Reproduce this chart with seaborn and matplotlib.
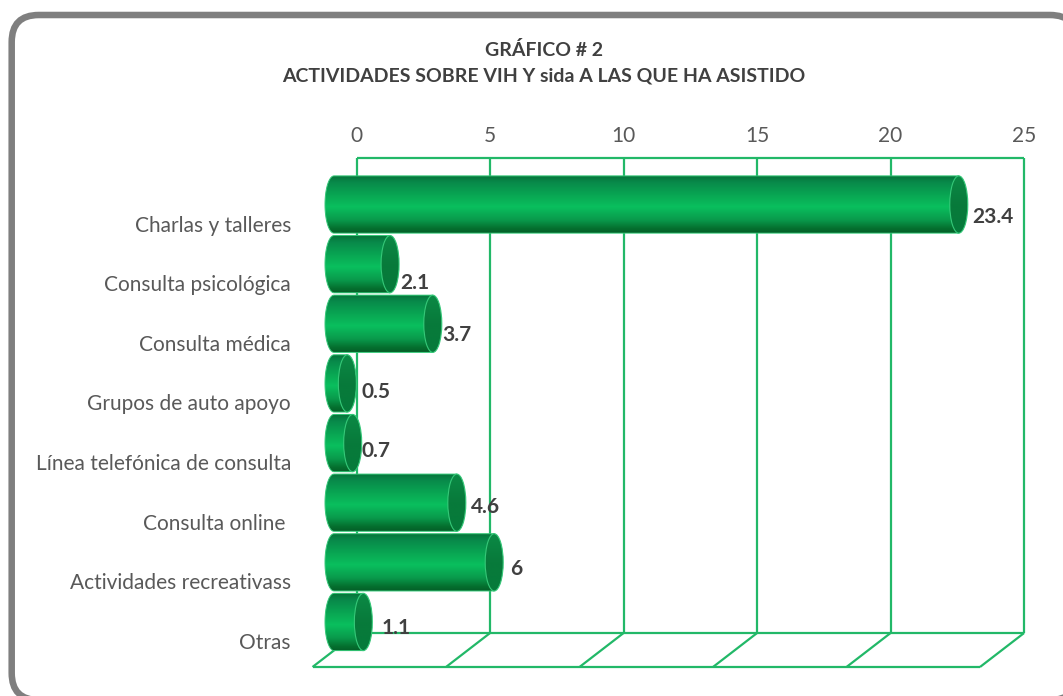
import numpy as np
import pandas as pd
import matplotlib
matplotlib.use("Agg")
import matplotlib.pyplot as plt
from matplotlib.colors import LinearSegmentedColormap
from matplotlib.patches import FancyBboxPatch, Ellipse, Polygon
from matplotlib.transforms import IdentityTransform
import seaborn as sns

categories = ["Charlas y talleres", "Consulta psicológica", "Consulta médica",
              "Grupos de auto apoyo", "Línea telefónica de consulta",
              "Consulta online ", "Actividades recreativass", "Otras"]
values = [23.4, 2.1, 3.7, 0.5, 0.7, 4.6, 6, 1.1]
value_labels = ["23.4", "2.1", "3.7", "0.5", "0.7", "4.6", "6", "1.1"]
axis_ticks = [0, 5, 10, 15, 20, 25]
title_lines = "GRÁFICO # 2\nACTIVIDADES SOBRE VIH Y sida A LAS QUE HA ASISTIDO"

W, H = 1063, 696
sns.set_theme(style="white")
plt.rcParams["font.family"] = ["Lato", "DejaVu Sans"]
TXT = "#595959"
BOLD = "#404040"
GRID = "#22b868"

fig = plt.figure(figsize=(W / 100, H / 100), dpi=100, facecolor="white")
XMAX = 26
L, R, T, B = 334.0, 334.0 + 26.7 * XMAX, 174.7, 651.8
ax = fig.add_axes([L / W, 1 - B / H, (R - L) / W, (B - T) / H])
ax.patch.set_alpha(0)

# frame (its right and bottom sides run past the picture)
fig.add_artist(FancyBboxPatch((11.7, H - 700), 1077 - 11.7, 700 - 15,
                              boxstyle="round,pad=0,rounding_size=27",
                              transform=IdentityTransform(), fc="white", ec="#7f7f7f",
                              lw=4.7, zorder=-5))

df = pd.DataFrame({"categoria": categories, "valor": values})
sns.barplot(data=df, y="categoria", x="valor", orient="h", color="#0a9a4a",
            width=0.96, ax=ax, zorder=3, saturation=1)

ax.set_xlim(0, XMAX)
ax.set_ylim(7.5, -0.5)
px_x = XMAX / (R - L)
px_y = 8 / (B - T)

# 3-D box: back wall, floor
back = 22.6 * px_x
front = -21.5 * px_x
wall_top = -0.5 - (T - 158) * px_y
floor_back = 7.5 - (B - 633) * px_y
floor_front = 7.5 + (667 - B) * px_y
gk = dict(color=GRID, lw=1.6, zorder=1, clip_on=False, solid_capstyle="butt")
for v in axis_ticks:
    ax.plot([v + back, v + back], [wall_top, floor_back], **gk)
    ax.plot([v + back, v + front], [floor_back, floor_front], **gk)
ax.plot([back, 25 + back], [wall_top, wall_top], **gk)
ax.plot([back, 25 + back], [floor_back, floor_back], **gk)
ax.plot([front, 25 + front], [floor_front, floor_front], **gk)

# cylinder shading over the library's bars
body = LinearSegmentedColormap.from_list("body", [
    (0, "#067238"), (0.12, "#08894a"), (0.35, "#09a753"), (0.55, "#0abf5e"),
    (0.78, "#09994b"), (0.92, "#05702f"), (1, "#045f28")])
cap = LinearSegmentedColormap.from_list("cap", ["#0b8a45", "#087a3b", "#067a3a"])
grad = np.linspace(0, 1, 128).reshape(-1, 1)
rx = 9 * px_x
th = np.linspace(np.pi / 2, 3 * np.pi / 2, 40)
for bar in ax.patches:
    x0, y0, w, h = bar.get_x(), bar.get_y(), bar.get_width(), bar.get_height()
    yc = y0 + h / 2
    bar.set_linewidth(0)
    pts = np.r_[np.c_[x0 + rx * np.cos(th), yc - h / 2 * np.sin(th)],
                [[x0 + w, y0 + h], [x0 + w, y0]]]
    shape = Polygon(pts, closed=True, transform=ax.transData, fc="none",
                    ec="#35c878", lw=0.7, zorder=4.5, clip_on=False)
    ax.add_patch(shape)
    im = ax.imshow(grad, cmap=body, extent=[x0 - rx, x0 + w, y0 + h, y0], aspect="auto",
                   zorder=4)
    im.set_clip_path(shape)
    im.set_clip_box(fig.bbox)
    ell = Ellipse((x0 + w, yc), 2 * rx, h, fc="none", ec="#35c878", lw=0.8, zorder=5.5,
                  clip_on=False)
    ax.add_patch(ell)
    im2 = ax.imshow(grad, cmap=cap, extent=[x0 + w - rx, x0 + w + rx, y0 + h, y0],
                    aspect="auto", zorder=5)
    im2.set_clip_path(ell)
    im2.set_clip_box(fig.bbox)

# value labels
nudge_px = [12, 19, 11, 9, 8, 4, 7, 6]
gap_px = [4, 1, 0, 5, 0, 5, 7, 9]
for i, (v, s) in enumerate(zip(values, value_labels)):
    ax.text(v + rx + gap_px[i] * px_x, i + nudge_px[i] * px_y, s, ha="left", va="center",
            fontsize=15, fontweight="bold", color=BOLD, zorder=8, clip_on=False)

# axes text
ax.set_xlabel("")
ax.set_ylabel("")
ax.xaxis.tick_top()
ax.set_xticks([v + back for v in axis_ticks], labels=[str(v) for v in axis_ticks])
ax.set_yticks(np.arange(len(categories)) + 19 * px_y, labels=categories)
ax.tick_params(axis="x", length=0, pad=21, labelsize=15, labelcolor=TXT)
ax.tick_params(axis="y", length=0, pad=31, labelsize=15, labelcolor=TXT)
ax.set_xlim(0, XMAX)
ax.set_ylim(7.5, -0.5)
sns.despine(ax=ax, left=True, bottom=True, top=True, right=True)

fig.text(544 / W, 1 - 63 / H, title_lines, ha="center", va="center", fontsize=14,
         fontweight="bold", color=BOLD, linespacing=1.62)

fig.savefig("out.png", dpi=100, facecolor="white")
